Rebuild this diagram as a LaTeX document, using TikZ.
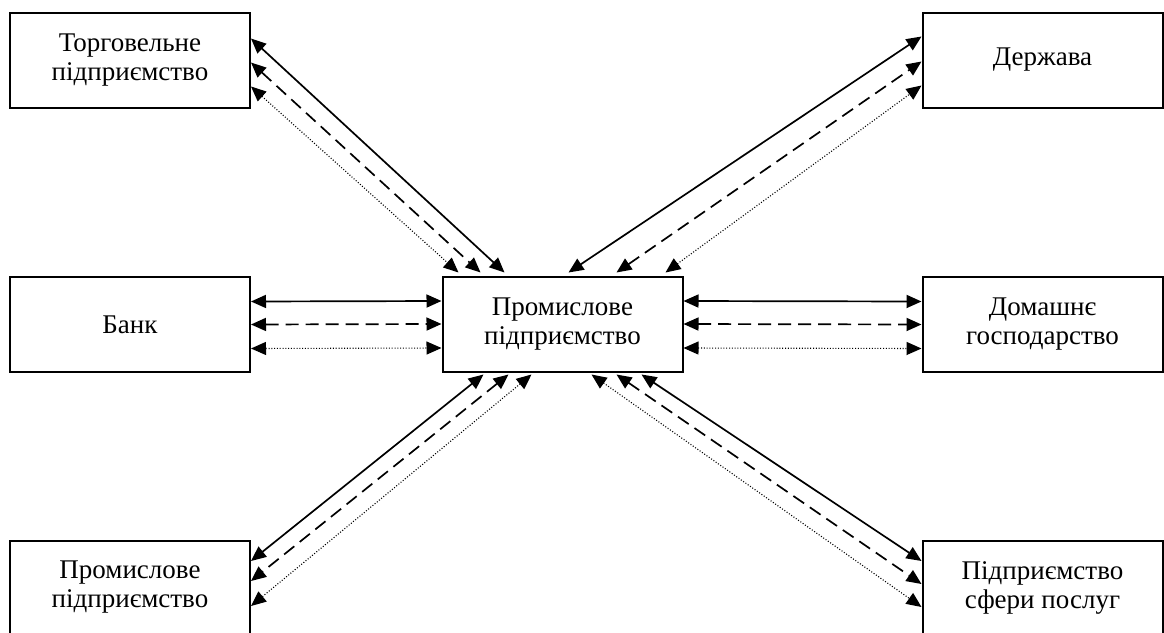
\documentclass[tikz,border=0pt]{standalone}
\usepackage{fontspec}
\setmainfont{Liberation Serif}
\usetikzlibrary{arrows.meta}
\begin{document}
\begin{tikzpicture}[x=1pt,y=-1pt,
  box/.style={draw,line width=2pt,minimum width=240pt,minimum height=95pt,inner sep=0pt,align=center,
    font=\fontsize{27}{29}\selectfont},
  link/.style={{Triangle[length=15pt,width=13pt]}-{Triangle[length=15pt,width=13pt]}},
  solidl/.style={link,line width=1.7pt},
  dashl/.style={link,line width=1.7pt,dash pattern=on 13pt off 7pt},
  dotl/.style={link,line width=1.1pt,dash pattern=on 1pt off 1.8pt}]
\useasboundingbox (0,0) rectangle (1164,632);
\node[box] (tl) at (130,60) {Торговельне\\підприємство};
\node[box] (tr) at (1042.5,60) {Держава};
\node[box] (ml) at (130,324.5) {Банк};
\node[box] (c) at (562.5,324) {Промислове\\підприємство};
\node[box] (mr) at (1042.5,324.5) {Домашнє\\господарство};
\node[box,minimum height=93pt] (bl) at (130,587.5) {Промислове\\підприємство};
\node[box,minimum height=93pt] (br) at (1042.5,587.5) {Підприємство\\сфери послуг};
% top-left
\draw[solidl] ([yshift=-27pt]tl.north east) -- ([xshift=63pt,yshift=3pt]c.north west);
\draw[dashl] ([yshift=-51pt]tl.north east) -- ([xshift=39pt,yshift=3pt]c.north west);
\draw[dotl] ([yshift=-75pt]tl.north east) -- ([xshift=17pt,yshift=3pt]c.north west);
% top-right
\draw[solidl] ([xshift=127pt,yshift=3pt]c.north west) -- ([yshift=-25pt]tr.north west);
\draw[dashl] ([xshift=175pt,yshift=3pt]c.north west) -- ([yshift=-50pt]tr.north west);
\draw[dotl] ([xshift=224pt,yshift=3pt]c.north west) -- ([yshift=-74pt]tr.north west);
% horizontal left
\draw[solidl] ([yshift=23pt]ml.east) -- ([yshift=23pt]c.west);
\draw[dashl] (ml.east) -- (c.west);
\draw[dotl] ([yshift=-24pt]ml.east) -- ([yshift=-24pt]c.west);
% horizontal right
\draw[solidl] ([yshift=23pt]c.east) -- ([yshift=23pt]mr.west);
\draw[dashl] (c.east) -- (mr.west);
\draw[dotl] ([yshift=-24pt]c.east) -- ([yshift=-24pt]mr.west);
% bottom-left
\draw[solidl] ([xshift=42pt,yshift=-2pt]c.south west) -- ([yshift=-21pt]bl.north east);
\draw[dashl] ([xshift=67pt,yshift=-2pt]c.south west) -- ([yshift=-41pt]bl.north east);
\draw[dotl] ([xshift=90pt,yshift=-2pt]c.south west) -- ([yshift=-66pt]bl.north east);
% bottom-right
\draw[solidl] ([xshift=200pt,yshift=-2pt]c.south west) -- ([yshift=-21pt]br.north west);
\draw[dashl] ([xshift=175pt,yshift=-2pt]c.south west) -- ([yshift=-44pt]br.north west);
\draw[dotl] ([xshift=150pt,yshift=-2pt]c.south west) -- ([yshift=-67pt]br.north west);
\end{tikzpicture}
\end{document}
